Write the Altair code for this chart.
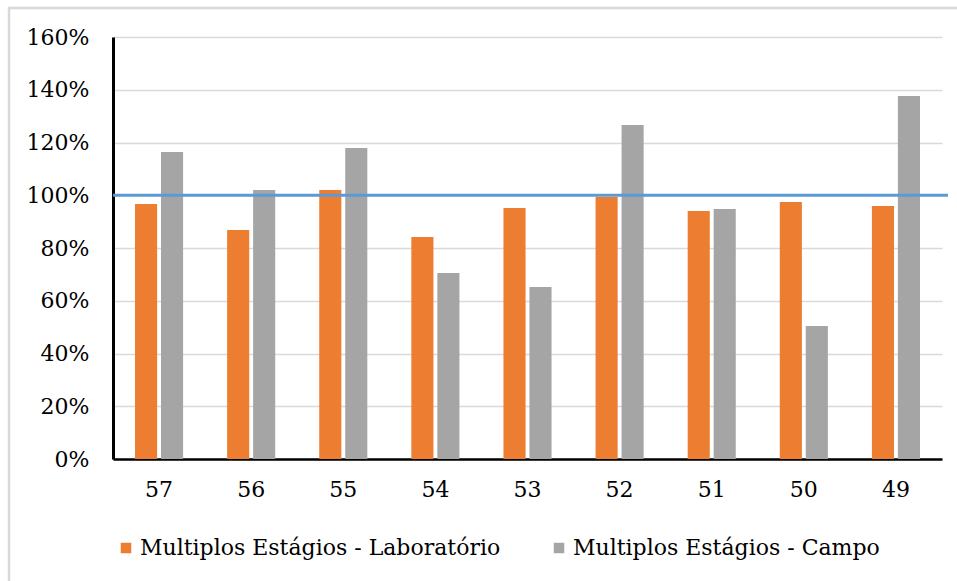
import altair as alt
import pandas as pd

categories = ["57", "56", "55", "54", "53", "52", "51", "50", "49"]
lab_values = [0.967, 0.868, 1.02, 0.842, 0.952, 0.993, 0.94, 0.974, 0.959]
campo_values = [1.164, 1.02, 1.179, 0.705, 0.652, 1.266, 0.948, 0.504, 1.376]
series_names = ["Multiplos Estágios  - Laboratório", "Multiplos Estágios  - Campo"]
reference_value = [1.0]

rows = []
for c, a, b in zip(categories, lab_values, campo_values):
    rows.append({"cat": c, "serie": series_names[0], "v": a})
    rows.append({"cat": c, "serie": series_names[1], "v": b})
df = pd.DataFrame(rows)

FONT = "DejaVu Serif"

bars = alt.Chart(df).mark_bar().encode(
    x=alt.X("cat:N", sort=categories, title=None,
            scale=alt.Scale(paddingInner=0.478, paddingOuter=0.239),
            axis=alt.Axis(labelAngle=0, labelFontSize=22, labelFont=FONT, labelColor="#000",
                          labelPadding=20, ticks=False, domainColor="#000", domainWidth=2.5)),
    xOffset=alt.XOffset("serie:N", sort=series_names, scale=alt.Scale(paddingInner=0.15)),
    y=alt.Y("v:Q", title=None,
            scale=alt.Scale(domain=[0, 1.6]),
            axis=alt.Axis(format=".0%", values=[0, 0.2, 0.4, 0.6, 0.8, 1.0, 1.2, 1.4, 1.6],
                          labelFontSize=22, labelFont=FONT, labelColor="#000", labelPadding=24,
                          ticks=False, domainColor="#000", domainWidth=3,
                          gridColor="#d9d9d9", gridWidth=1.5)),
    color=alt.Color("serie:N", sort=series_names,
                    scale=alt.Scale(domain=series_names, range=["#ED7D31", "#A5A5A5"]),
                    legend=alt.Legend(title=None, orient="none", direction="horizontal",
                                      legendX=2, legendY=500, symbolType="square",
                                      symbolSize=110, symbolStrokeWidth=0,
                                      labelFont=FONT, labelFontSize=22, labelColor="#000",
                                      columnPadding=40, labelOffset=3, labelLimit=400)),
)

ref = alt.Chart(pd.DataFrame({"r": reference_value})).mark_rule(color="#5B9BD5", strokeWidth=3).encode(
    y="r:Q", x=alt.value(0), x2=alt.value(835)
)

border = alt.Chart(pd.DataFrame({"r": reference_value})).mark_rect(
    fill=None, stroke="#d9d9d9", strokeWidth=2.5
).encode(
    x=alt.value(-104), x2=alt.value(870), y=alt.value(-29), y2=alt.value(570)
)

chart = alt.layer(border, bars, ref).properties(
    width=829, height=422,
    autosize=alt.AutoSizeParams(type="none"),
    padding={"left": 113, "top": 37, "right": 15, "bottom": 122},
    background="white",
).configure(font=FONT).configure_view(stroke=None)

chart.save("out.html", embed_options={"renderer": "svg", "actions": False})
